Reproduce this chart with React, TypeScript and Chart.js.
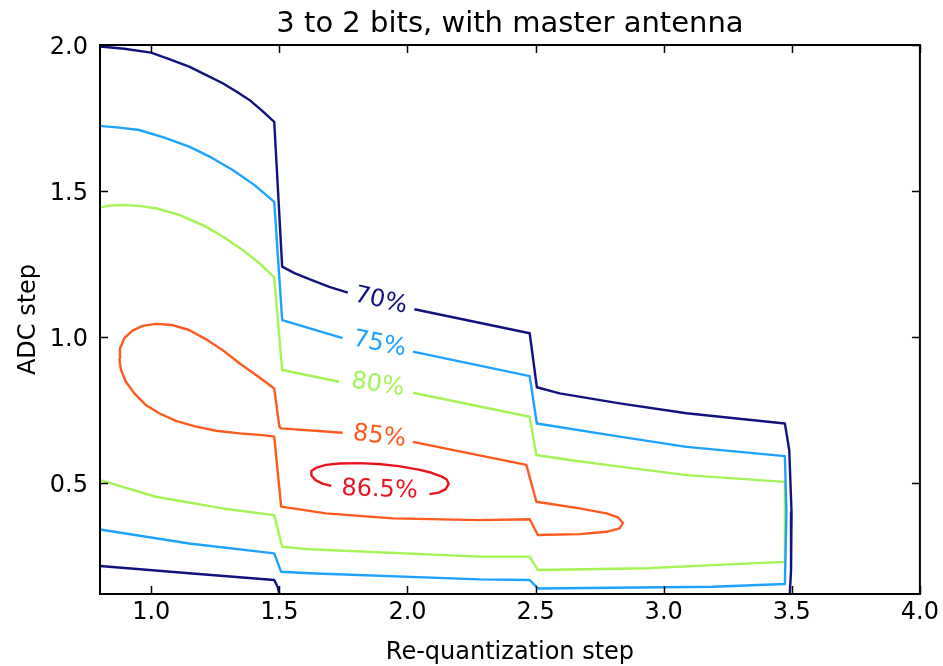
import React, { useEffect, useRef } from "react";
import { Chart, registerables } from "chart.js";
Chart.register(...registerables);

const chartTitle = "3 to 2 bits, with master antenna";
const xLabel = "Re-quantization step";
const yLabel = "ADC step";
const xTicks = [1.0, 1.5, 2.0, 2.5, 3.0, 3.5, 4.0];
const yTicks = [0.5, 1.0, 1.5, 2.0];

const levelNames = ["70%", "75%", "80%", "85%", "86.5%"];
const levelColors = ["#12127f", "#1ea2ff", "#a4f455", "#ff5a1e", "#e8141e"];

// contour paths [x, y]; null y = gap under a label
const c70upper: [number, number | null][] = [
  [0.8, 1.995], [0.895, 1.987], [0.999, 1.974], [1.07, 1.952], [1.148, 1.926], [1.215, 1.897],
  [1.279, 1.869], [1.332, 1.841], [1.383, 1.812], [1.43, 1.777], [1.48, 1.737],
  [1.511, 1.241], [1.559, 1.219], [1.617, 1.198], [1.695, 1.172], [1.767, 1.152], [1.767, null],
  [2.027, 1.095], [2.477, 1.013], [2.505, 0.828], [2.594, 0.807], [2.828, 0.773], [3.089, 0.739],
  [3.473, 0.704], [3.49, 0.613], [3.499, 0.4], [3.497, 0.2], [3.492, 0.12],
];
const c70lower: [number, number | null][] = [
  [0.8, 0.216], [1.148, 0.191], [1.48, 0.168], [1.493, 0.145], [1.5, 0.12],
];
const c75: [number, number | null][] = [
  [0.8, 1.723], [0.875, 1.717], [0.953, 1.709], [1.051, 1.683], [1.148, 1.652], [1.234, 1.615],
  [1.318, 1.572], [1.402, 1.521], [1.48, 1.463], [1.511, 1.058],
  [1.747, 0.996], [1.747, null], [2.021, 0.95], [2.477, 0.866], [2.505, 0.704], [2.828, 0.659],
  [3.089, 0.624], [3.473, 0.592], [3.479, 0.4], [3.473, 0.154], [3.191, 0.145], [2.509, 0.139],
  [2.477, 0.168], [2.281, 0.17], [1.617, 0.191], [1.507, 0.196], [1.48, 0.259], [1.148, 0.293],
  [0.8, 0.341],
];
const c80: [number, number | null][] = [
  [0.8, 1.444], [0.836, 1.45], [0.888, 1.452], [0.953, 1.449], [1.018, 1.441], [1.109, 1.418],
  [1.214, 1.378], [1.285, 1.341], [1.357, 1.298], [1.422, 1.253], [1.48, 1.204],
  [1.511, 0.887], [1.734, 0.847], [1.734, null], [2.021, 0.809], [2.477, 0.727], [2.503, 0.596],
  [2.633, 0.579], [2.828, 0.556], [3.089, 0.527], [3.473, 0.504], [3.473, 0.23], [3.191, 0.219],
  [2.932, 0.208], [2.509, 0.202], [2.477, 0.248], [2.281, 0.248], [1.617, 0.273], [1.511, 0.282],
  [1.48, 0.39], [1.279, 0.413], [1.018, 0.453], [0.8, 0.51],
];
const c85: [number, number | null][] = [
  [0.875, 0.927], [0.878, 0.961], [0.895, 0.996], [0.927, 1.022], [0.966, 1.038], [1.018, 1.045],
  [1.083, 1.041], [1.148, 1.024], [1.214, 0.992], [1.279, 0.955], [1.344, 0.91], [1.409, 0.87],
  [1.48, 0.824], [1.5, 0.693], [1.507, 0.687], [1.747, 0.672], [1.747, null], [2.021, 0.641],
  [2.464, 0.562], [2.503, 0.436], [2.672, 0.413], [2.776, 0.396], [2.822, 0.382], [2.841, 0.364],
  [2.828, 0.345], [2.776, 0.333], [2.672, 0.325], [2.509, 0.322], [2.477, 0.376], [2.281, 0.373],
  [1.943, 0.379], [1.682, 0.396], [1.507, 0.419], [1.48, 0.659], [1.435, 0.664], [1.344, 0.67],
  [1.253, 0.679], [1.175, 0.693], [1.096, 0.713], [1.031, 0.739], [0.979, 0.767], [0.934, 0.807],
  [0.901, 0.847], [0.882, 0.887], [0.875, 0.927],
];
const c865: [number, number | null][] = [
  [2.086, 0.462], [2.122, 0.467], [2.149, 0.479], [2.161, 0.497], [2.153, 0.512], [2.134, 0.522],
  [2.091, 0.536], [2.044, 0.546], [1.966, 0.558], [1.888, 0.565], [1.81, 0.568], [1.734, 0.567],
  [1.682, 0.562], [1.645, 0.553], [1.625, 0.541], [1.625, 0.526], [1.641, 0.51], [1.668, 0.498],
  [1.702, 0.49],
];

// contour label anchors (data units) and rotation (degrees)
const labelX = [1.896, 1.891, 1.884, 1.891, 1.891];
const labelY = [1.124, 0.975, 0.836, 0.659, 0.476];
const labelAngle = [13, 11, 8.5, 7, 2];

const FONT = "'DejaVu Sans', sans-serif";

const contours: { path: [number, number | null][]; level: number }[] = [
  { path: c70upper, level: 0 },
  { path: c70lower, level: 0 },
  { path: c75, level: 1 },
  { path: c80, level: 2 },
  { path: c85, level: 3 },
  { path: c865, level: 4 },
];

const framePlugin = {
  id: "frameAndLabels",
  afterDatasetsDraw(chart: any) {
    const { ctx, chartArea: a, scales } = chart;
    const xs = scales.x, ys = scales.y;
    ctx.save();
    ctx.font = `24px ${FONT}`;
    ctx.textAlign = "center";
    ctx.textBaseline = "middle";
    levelNames.forEach((t, i) => {
      ctx.save();
      ctx.translate(xs.getPixelForValue(labelX[i]), ys.getPixelForValue(labelY[i]));
      ctx.rotate((labelAngle[i] * Math.PI) / 180);
      ctx.fillStyle = levelColors[i];
      ctx.fillText(t, 0, 0);
      ctx.restore();
    });
    ctx.strokeStyle = "#000";
    ctx.lineWidth = 1.5;
    const L = 8;
    ctx.beginPath();
    xTicks.forEach((v) => {
      const px = Math.round(xs.getPixelForValue(v)) + 0.5;
      ctx.moveTo(px, a.bottom);
      ctx.lineTo(px, a.bottom - L);
      ctx.moveTo(px, a.top);
      ctx.lineTo(px, a.top + L);
    });
    yTicks.forEach((v) => {
      const py = Math.round(ys.getPixelForValue(v)) + 0.5;
      ctx.moveTo(a.left, py);
      ctx.lineTo(a.left + L, py);
      ctx.moveTo(a.right, py);
      ctx.lineTo(a.right - L, py);
    });
    ctx.stroke();
    ctx.lineWidth = 2;
    ctx.strokeRect(a.left, a.top, a.right - a.left, a.bottom - a.top);
    ctx.restore();
  },
};

export default function App() {
  const ref = useRef<HTMLCanvasElement>(null);
  useEffect(() => {
    const datasets = contours.map((c) => ({
      data: c.path.map(([x, y]) => ({ x, y })),
      borderColor: levelColors[c.level],
      backgroundColor: levelColors[c.level],
      borderWidth: 2.4,
      pointRadius: 0,
      tension: 0,
      fill: false,
      spanGaps: false,
      borderJoinStyle: "round",
    }));
    const tickFont = { family: FONT, size: 24, weight: "normal" as const };
    const chart = new Chart(ref.current!, {
      type: "line",
      data: { datasets: datasets as any },
      options: {
        responsive: false,
        animation: false,
        layout: { padding: { left: 0, right: 23, top: 0, bottom: 0 } },
        plugins: {
          legend: { display: false },
          tooltip: { enabled: false },
          title: {
            display: true,
            text: chartTitle,
            fullSize: false,
            color: "#000",
            font: { family: FONT, size: 29, weight: "normal", lineHeight: 1.2 },
            padding: { top: 7, bottom: 3.2 },
          },
        },
        scales: {
          x: {
            type: "linear",
            min: 0.8,
            max: 4.0,
            afterBuildTicks: (s: any) => {
              s.ticks = xTicks.map((v) => ({ value: v }));
            },
            afterFit: (s: any) => {
              s.height = 72;
            },
            grid: { display: false, drawTicks: false },
            border: { display: false },
            ticks: {
              padding: 4,
              color: "#000",
              font: tickFont,
              maxRotation: 0,
              autoSkip: false,
              callback: (v: any) => Number(v).toFixed(1),
            },
            title: {
              display: true,
              text: xLabel,
              color: "#000",
              font: { family: FONT, size: 24, weight: "normal", lineHeight: 1.2 },
              padding: { top: 0, bottom: -1.5 },
            },
          },
          y: {
            type: "linear",
            min: 0.12,
            max: 2.0,
            afterBuildTicks: (s: any) => {
              s.ticks = yTicks.map((v) => ({ value: v }));
            },
            afterFit: (s: any) => {
              s.width = 100;
            },
            grid: { display: false, drawTicks: false },
            border: { display: false },
            ticks: {
              padding: 12,
              labelOffset: 3,
              color: "#000",
              font: tickFont,
              autoSkip: false,
              callback: (v: any) => Number(v).toFixed(1),
            },
            title: {
              display: true,
              text: yLabel,
              color: "#000",
              font: { family: FONT, size: 24, weight: "normal", lineHeight: 1.2 },
              padding: { top: 14.6, bottom: 0 },
            },
          },
        },
      } as any,
      plugins: [framePlugin],
    });
    return () => chart.destroy();
  }, []);
  return (
    <div style={{ position: "absolute", left: 0, top: 0, width: 943, height: 666, background: "#fff" }}>
      <canvas ref={ref} width={943} height={666} style={{ display: "block" }} />
    </div>
  );
}
